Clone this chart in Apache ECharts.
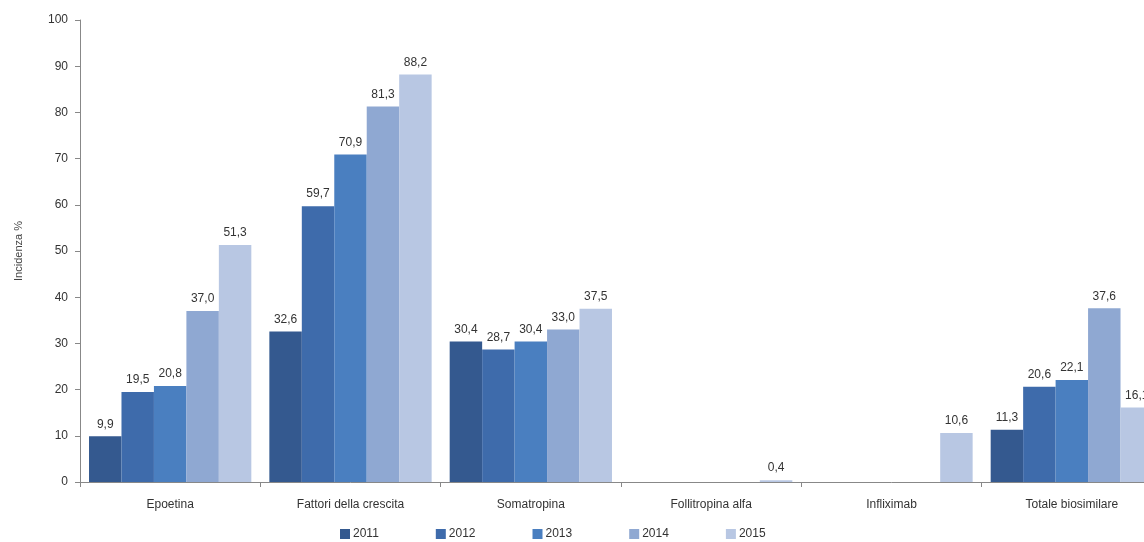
<!DOCTYPE html>
<html>
<head>
<meta charset="utf-8">
<script src="https://cdn.jsdelivr.net/npm/echarts@6/dist/echarts.min.js"></script>
<style>
  html, body { margin: 0; padding: 0; background: #fff; overflow: hidden; }
  #main { width: 1180px; height: 542px; }
</style>
</head>
<body>
<div id="main"></div>
<script>
// categorie e valori (incidenza %)
const categories = ["Epoetina", "Fattori della crescita", "Somatropina", "Follitropina alfa", "Infliximab", "Totale biosimilare"];
const years = ["2011", "2012", "2013", "2014", "2015"];
const v2011 = [9.9, 32.6, 30.4, null, null, 11.3];
const v2012 = [19.5, 59.7, 28.7, null, null, 20.6];
const v2013 = [20.8, 70.9, 30.4, null, null, 22.1];
const v2014 = [37.0, 81.3, 33.0, null, null, 37.6];
const v2015 = [51.3, 88.2, 37.5, 0.4, 10.6, 16.1];
const yTicks = [0, 10, 20, 30, 40, 50, 60, 70, 80, 90, 100];

const colors = ["#34598f", "#3e6bab", "#4a7fc0", "#8fa8d2", "#b8c7e3"];
const allValues = [v2011, v2012, v2013, v2014, v2015];

// il grafico originale è tagliato a destra: contenitore più largo della finestra
const chart = echarts.init(document.getElementById("main"));

const series = years.map((y, i) => ({
  name: y,
  type: "bar",
  barGap: "0%",
  barCategoryGap: "10%",
  itemStyle: { color: colors[i] },
  label: {
    show: true,
    position: "top",
    distance: 6,
    color: "#333",
    fontSize: 12,
    fontFamily: "Liberation Sans, Arial, sans-serif",
    formatter: p => p.value == null ? "" : p.value.toFixed(1).replace(".", ",")
  },
  data: allValues[i].map(v => v == null ? "-" : v)
}));

chart.setOption({
  animation: false,
  textStyle: { fontFamily: "Liberation Sans, Arial, sans-serif" },
  grid: { left: 80, right: 18, top: 20, bottom: 60, containLabel: false },
  legend: {
    bottom: -3,
    left: 335,
    itemWidth: 10,
    itemHeight: 10,
    itemGap: 57,
    icon: "rect",
    textStyle: { color: "#333", fontSize: 12, padding: [0, 0, 0, -2] },
    data: years
  },
  xAxis: {
    type: "category",
    data: categories,
    axisLine: { lineStyle: { color: "#888" } },
    axisTick: { show: true, alignWithLabel: false, length: 5, lineStyle: { color: "#888" } },
    axisLabel: { color: "#333", fontSize: 12, margin: 17, interval: 0 }
  },
  yAxis: {
    type: "value",
    min: yTicks[0],
    max: yTicks[yTicks.length - 1],
    interval: 10,
    name: "Incidenza %",
    nameLocation: "middle",
    nameGap: 56,
    nameTextStyle: { color: "#444", fontSize: 11 },
    axisLine: { show: true, lineStyle: { color: "#888" } },
    axisTick: { show: true, length: 5, lineStyle: { color: "#888" } },
    axisLabel: { color: "#333", fontSize: 12, margin: 12 },
    splitLine: { show: false }
  },
  series: series
});
</script>
</body>
</html>
